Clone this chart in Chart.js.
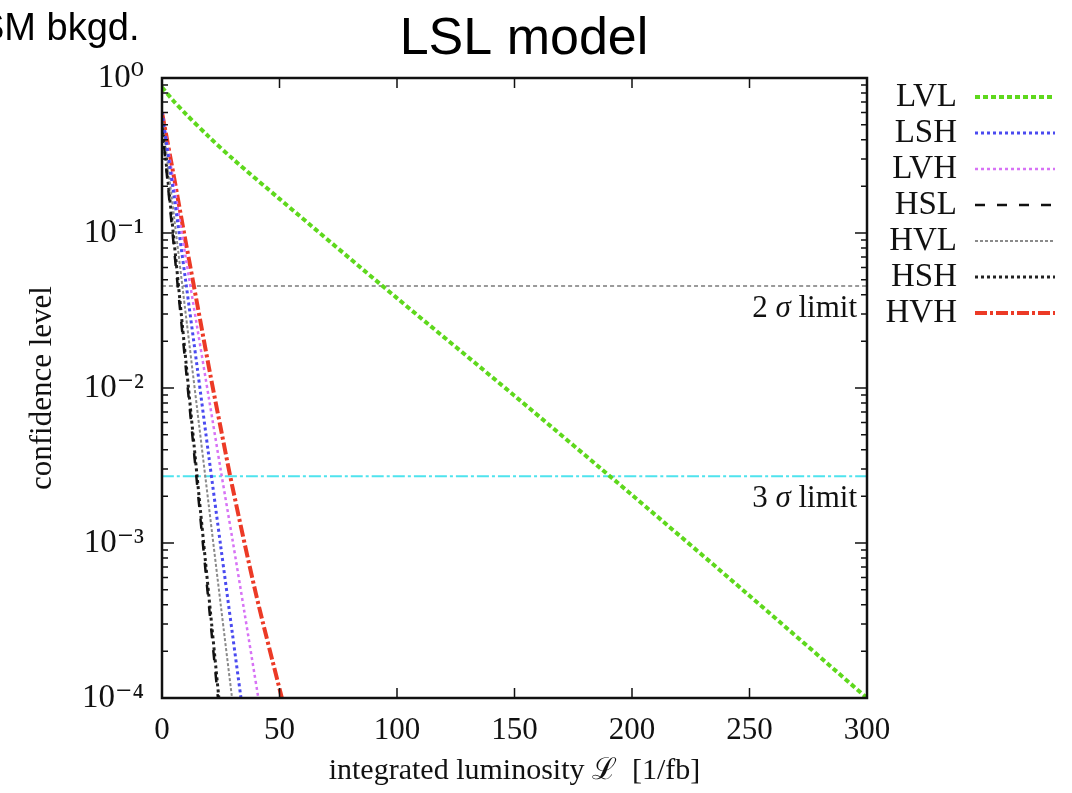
<!DOCTYPE html>
<html>
<head>
<meta charset="utf-8">
<script src="https://cdn.jsdelivr.net/npm/chart.js@4/dist/chart.umd.min.js"></script>
<style>
  body { margin: 0; background: #fff; }
  canvas { display: block; }
</style>
</head>
<body>
<canvas id="grafico" width="1072" height="793"></canvas>
<script>
// luminosidad integrada [1/fb] y nivel de confianza
const lvlL = [0, 5, 10, 20, 30, 50, 100, 150, 200, 250, 300];
const lvlCL = [0.871, 0.708, 0.589, 0.417, 0.302, 0.166, 0.038, 0.00891, 0.00204, 0.000457, 0.0001];

const lshL = [0, 5, 10, 15, 20, 25, 30, 33.6];
const lshCL = [0.60, 0.178, 0.050, 0.0135, 0.00355, 0.00095, 0.000257, 0.0001];

const lvhL = [0, 5, 10, 15, 20, 25, 30, 35, 41];
const lvhCL = [0.60, 0.209, 0.0708, 0.0245, 0.00851, 0.00295, 0.00105, 0.000363, 0.0001];

const hslL = [0, 5, 10, 15, 20, 23.8];
const hslCL = [0.50, 0.083, 0.0141, 0.00234, 0.00039, 0.0001];

const hvlL = [0, 5, 10, 15, 20, 25, 29.8];
const hvlCL = [0.56, 0.132, 0.0309, 0.00724, 0.0017, 0.000398, 0.0001];

const hshL = [0, 5, 10, 15, 20, 24.2];
const hshCL = [0.52, 0.093, 0.0158, 0.00263, 0.000447, 0.0001];

const hvhL = [0, 5, 10, 15, 20, 25, 30, 40, 51];
const hvhCL = [0.60, 0.234, 0.0891, 0.0347, 0.0135, 0.0055, 0.00229, 0.000468, 0.0001];

const limiteL = [0, 300];
const sigma2CL = [0.0455, 0.0455];
const sigma3CL = [0.0027, 0.0027];

const xTicks = [0, 50, 100, 150, 200, 250, 300];

function puntos(xs, ys) {
  return xs.map((x, i) => ({ x: x, y: ys[i] }));
}

function serie(label, xs, ys, color, dash, ancho, enLeyenda) {
  return {
    label: label,
    data: puntos(xs, ys),
    borderColor: color,
    backgroundColor: color,
    borderDash: dash,
    borderWidth: ancho,
    pointRadius: 0,
    fill: false,
    tension: 0.3,
    enLeyenda: enLeyenda
  };
}

const superindice = { "0": "\u2070", "1": "\u00b9", "2": "\u00b2", "3": "\u00b3", "4": "\u2074", "-": "\u207b" };

const serif = "'Liberation Serif', 'DejaVu Serif', serif";

const marcoYTextos = {
  id: "marcoYTextos",
  afterDatasetsDraw(chart) {
    const ctx = chart.ctx;
    const a = chart.chartArea;
    const xs = chart.scales.x;
    const ys = chart.scales.y;
    ctx.save();

    // marco
    ctx.strokeStyle = "#111";
    ctx.lineWidth = 2.5;
    ctx.setLineDash([]);
    ctx.strokeRect(a.left, a.top, a.right - a.left, a.bottom - a.top);

    // marcas eje x
    ctx.lineWidth = 1.5;
    xTicks.forEach((v) => {
      const px = xs.getPixelForValue(v);
      ctx.beginPath();
      ctx.moveTo(px, a.bottom);
      ctx.lineTo(px, a.bottom - 10);
      ctx.moveTo(px, a.top);
      ctx.lineTo(px, a.top + 10);
      ctx.stroke();
    });

    // marcas eje y (decadas y menores)
    for (let e = -4; e <= 0; e++) {
      for (let m = 1; m <= 9; m++) {
        const v = m * Math.pow(10, e);
        if (v > 1) break;
        const py = ys.getPixelForValue(v);
        const largo = m === 1 ? 12 : 6;
        ctx.beginPath();
        ctx.moveTo(a.left, py);
        ctx.lineTo(a.left + largo, py);
        ctx.moveTo(a.right, py);
        ctx.lineTo(a.right - largo, py);
        ctx.stroke();
      }
    }

    // textos de limites
    ctx.fillStyle = "#111";
    ctx.textAlign = "right";
    ctx.textBaseline = "middle";
    const etiquetas = [
      ["2", sigma2CL[0]],
      ["3", sigma3CL[0]]
    ];
    etiquetas.forEach(([n, v]) => {
      const py = ys.getPixelForValue(v) + 23;
      ctx.font = "31px " + serif;
      const limite = " limit";
      const wLim = ctx.measureText(limite).width;
      ctx.fillText(limite, a.right - 10, py);
      ctx.font = "italic 31px " + serif;
      const wSig = ctx.measureText("\u03c3").width;
      ctx.fillText("\u03c3", a.right - 10 - wLim, py);
      ctx.font = "31px " + serif;
      ctx.fillText(n + " ", a.right - 10 - wLim - wSig, py);
    });

    // leyenda
    let fila = 0;
    chart.data.datasets.forEach((ds) => {
      if (!ds.enLeyenda) return;
      const y = 97 + fila * 36;
      ctx.font = "33px " + serif;
      ctx.fillStyle = "#111";
      ctx.textAlign = "right";
      ctx.fillText(ds.label, 957, y);
      ctx.strokeStyle = ds.borderColor;
      ctx.lineWidth = ds.borderWidth;
      ctx.setLineDash(ds.borderDash);
      ctx.beginPath();
      ctx.moveTo(975, y);
      ctx.lineTo(1055, y);
      ctx.stroke();
      fila++;
    });

    // titulos
    ctx.setLineDash([]);
    ctx.fillStyle = "#000";
    ctx.textAlign = "center";
    ctx.textBaseline = "alphabetic";
    ctx.font = "52px 'Liberation Sans', Arial, sans-serif";
    ctx.fillText("LSL model", 524, 54);
    ctx.textAlign = "left";
    ctx.font = "38px 'Liberation Sans', Arial, sans-serif";
    ctx.fillText("SM bkgd.", -21, 40);
    ctx.restore();
  }
};

new Chart(document.getElementById("grafico").getContext("2d"), {
  type: "line",
  data: {
    datasets: [
      serie("LVL", lvlL, lvlCL, "#5ed81c", [5, 3], 4, true),
      serie("LSH", lshL, lshCL, "#4a4af0", [3, 3], 3, true),
      serie("LVH", lvhL, lvhCL, "#d772f5", [3, 3], 2.5, true),
      serie("HSL", hslL, hslCL, "#111111", [10, 12], 2.5, true),
      serie("HVL", hvlL, hvlCL, "#8a8a8a", [3, 2], 2, true),
      serie("HSH", hshL, hshCL, "#222222", [3, 3], 3, true),
      serie("HVH", hvhL, hvhCL, "#ec3a26", [12, 3, 3, 3], 4, true),
      serie("2 sigma", limiteL, sigma2CL, "#9a9a9a", [4, 3], 2, false),
      serie("3 sigma", limiteL, sigma3CL, "#4fe3ee", [12, 3, 3, 3], 2, false)
    ]
  },
  options: {
    responsive: false,
    animation: false,
    devicePixelRatio: 1,
    layout: { padding: { top: 78, right: 205, bottom: 0, left: 0 } },
    plugins: {
      legend: { display: false },
      title: { display: false },
      tooltip: { enabled: false }
    },
    scales: {
      x: {
        type: "linear",
        min: 0,
        max: 300,
        afterFit: (s) => { s.height = 95; },
        afterBuildTicks: (s) => { s.ticks = xTicks.map((v) => ({ value: v })); },
        grid: { display: false, drawTicks: false },
        border: { display: false },
        ticks: {
          padding: 14,
          color: "#111",
          font: { family: serif, size: 31 }
        },
        title: {
          display: true,
          text: "integrated luminosity \u2112  [1/fb]",
          color: "#111",
          font: { family: serif, size: 30 },
          padding: { top: 0, bottom: 4 }
        }
      },
      y: {
        type: "logarithmic",
        min: 0.0001,
        max: 1,
        afterFit: (s) => { s.width = 162; },
        grid: { display: false, drawTicks: false },
        border: { display: false },
        ticks: {
          autoSkip: false,
          padding: 18,
          color: "#111",
          font: { family: serif, size: 33 },
          callback: (v) => {
            const e = Math.log10(v);
            if (Math.abs(e - Math.round(e)) > 1e-9) return "";
            return "10" + String(Math.round(e)).split("").map((c) => superindice[c]).join("");
          }
        },
        title: {
          display: true,
          text: "confidence level",
          color: "#111",
          font: { family: serif, size: 31 },
          padding: { top: 24, bottom: 10 }
        }
      }
    }
  },
  plugins: [marcoYTextos]
});
</script>
</body>
</html>
